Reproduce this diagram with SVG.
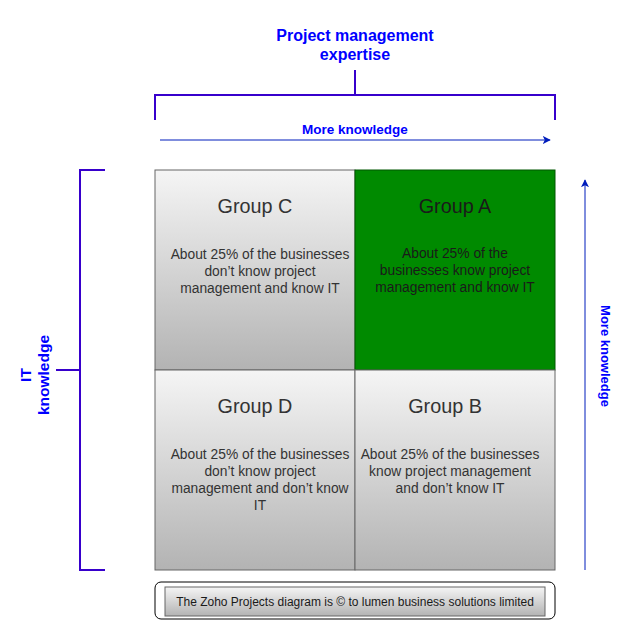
<svg xmlns="http://www.w3.org/2000/svg" width="637" height="621" viewBox="0 0 637 621">
<defs>
<linearGradient id="gr" x1="0" y1="0" x2="0" y2="1">
<stop offset="0" stop-color="#f5f5f5"/>
<stop offset="1" stop-color="#b3b3b3"/>
</linearGradient>
<marker id="ah" viewBox="0 0 10 10" refX="9" refY="5" markerWidth="8" markerHeight="8" markerUnits="userSpaceOnUse" orient="auto">
<path d="M0,0 L10,5 L0,10 L2.5,5 Z" fill="#001DBC"/>
</marker>
<style>
text{font-family:"Liberation Sans",Arial,sans-serif}
.cell{fill:url(#gr);stroke:#666666;stroke-width:1}
.green{fill:#008a00;stroke:#005700;stroke-width:1}
.title{font-size:19.8px;fill:#333333;text-anchor:middle}
.body{font-size:13.8px;fill:#333333;text-anchor:middle}
.foot{font-size:12px;fill:#1a1a1a;text-anchor:middle}
.dark{fill:#1a1a1a}
.lbl{font-weight:bold;fill:#0000FF;text-anchor:middle}
.brk{fill:none;stroke:#3700CC;stroke-width:2}
.arr{fill:none;stroke:#001DBC;stroke-width:1;marker-end:url(#ah)}
</style>
</defs>
<rect width="637" height="621" fill="#ffffff"/>

<g id="labels">
<text class="lbl" x="355" y="41" font-size="16">Project management</text>
<text class="lbl" x="355" y="60" font-size="16">expertise</text>
<text class="lbl" x="355" y="134" font-size="13.5">More knowledge</text>
<g transform="translate(35,375) rotate(-90)">
<text class="lbl" x="0" y="-4" font-size="15.5">IT</text>
<text class="lbl" x="0" y="14" font-size="15.5">knowledge</text>
</g>
<text class="lbl" font-size="13" transform="translate(601,356) rotate(90)" x="0" y="0">More knowledge</text>
</g>

<g id="connectors">
<path class="brk" d="M355,70 V95 M155,120 V95 H555 V120"/>
<path class="brk" d="M56,370 H80 M105,170 H80 V570 H105"/>
<line class="arr" x1="160" y1="140" x2="550" y2="140"/>
<line class="arr" x1="585" y1="570" x2="585" y2="180"/>
</g>

<g id="groupC">
<rect class="cell" x="155" y="170" width="200" height="200"/>
<text class="title" x="255" y="213">Group C</text>
<text class="body" x="260" y="259">About 25% of the businesses</text>
<text class="body" x="260" y="276">don’t know project</text>
<text class="body" x="260" y="293">management and know IT</text>
</g>

<g id="groupA">
<rect class="green" x="355" y="170" width="200" height="200"/>
<text class="title dark" x="455" y="213">Group A</text>
<text class="body dark" x="455" y="258">About 25% of the</text>
<text class="body dark" x="455" y="275">businesses know project</text>
<text class="body dark" x="455" y="292">management and know IT</text>
</g>

<g id="groupD">
<rect class="cell" x="155" y="370" width="200" height="200"/>
<text class="title" x="255" y="413">Group D</text>
<text class="body" x="260" y="459">About 25% of the businesses</text>
<text class="body" x="260" y="476">don’t know project</text>
<text class="body" x="260" y="493">management and don’t know</text>
<text class="body" x="260" y="510">IT</text>
</g>

<g id="groupB">
<rect class="cell" x="355" y="370" width="200" height="200"/>
<text class="title" x="445" y="413">Group B</text>
<text class="body" x="450" y="459">About 25% of the businesses</text>
<text class="body" x="450" y="476">know project management</text>
<text class="body" x="450" y="493">and don’t know IT</text>
</g>

<g id="footer">
<rect x="155" y="582" width="400" height="37" rx="6" ry="6" fill="#ffffff" stroke="#000000" stroke-width="1"/>
<rect class="cell" x="165" y="587" width="380" height="29"/>
<text class="foot" x="355" y="606">The Zoho Projects diagram is © to lumen business solutions limited</text>
</g>
</svg>
